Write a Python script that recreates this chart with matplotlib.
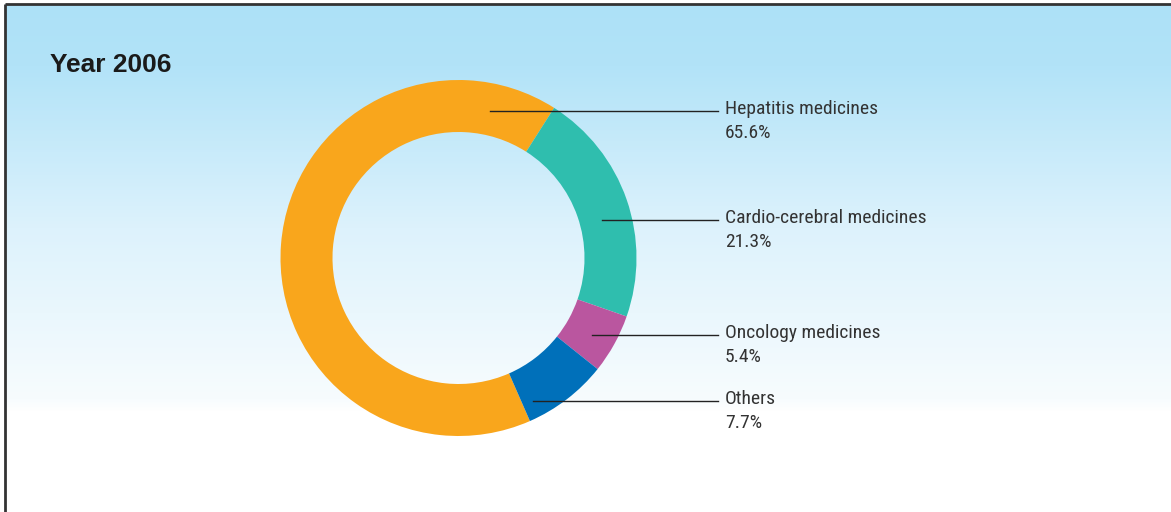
import numpy as np
import matplotlib
matplotlib.use("Agg")
import matplotlib.pyplot as plt
from matplotlib.colors import LinearSegmentedColormap
from matplotlib import font_manager

# ---- data ----
categories = ["Hepatitis medicines", "Cardio-cerebral medicines", "Oncology medicines", "Others"]
shares = [65.6, 21.3, 5.4, 7.7]
title = "Year 2006"

# ---- styling ----
colors = ["#F9A61C", "#2FBEAE", "#BA569F", "#0070BA"]
anchor_angles = [78.1, 14.9, -30.0, -62.5]   # where leader lines touch the ring (deg)
anchor_radii = [150.5, 148, 154.7, 161.6]    # px from centre
text_color = "#333333"

avail = {f.name for f in font_manager.fontManager.ttflist}
narrow = "Liberation Sans Narrow" if "Liberation Sans Narrow" in avail else "Roboto Condensed" if "Roboto Condensed" in avail else "Liberation Sans"

W, H = 1171, 512
fig = plt.figure(figsize=(W / 100, H / 100), dpi=100)

# background gradient
bg = fig.add_axes([0, 0, 1, 1])
bg.set_xlim(0, W)
bg.set_ylim(H, 0)
bg.axis("off")
cmap = LinearSegmentedColormap.from_list("bg", [(0, "#ADE1F7"), (0.15, "#B2E3F8"), (0.55, "#DDF2FC"), (0.97, "#F7FCFE"), (1.0, "#FFFFFF")])
ys = np.linspace(4, H, 600)
grad = np.clip((ys - 4) / (412 - 4), 0, 1)
grad[ys > 412] = 1.0
bg.imshow(grad[:, None], aspect="auto", cmap=cmap, extent=[5, W, H, 4], vmin=0, vmax=1)
bg.plot([5, W], [4, 4], color="#333333", lw=2, solid_capstyle="butt")
bg.plot([5, 5], [4, H], color="#333333", lw=2, solid_capstyle="butt")
bg.text(50, 65, title, fontsize=19, fontweight="bold", family="Liberation Sans",
        color="#1a1a1a", va="center", ha="left")

# donut
R = 178
cx, cy = 458.5, 258
ax = fig.add_axes([(cx - R) / W, (H - cy - R) / H, 2 * R / W, 2 * R / H])
ax.axis("off")
ax.patch.set_alpha(0)
start = 57.5 + shares[0] / 100 * 360
ax.pie(shares, colors=colors, startangle=start, counterclock=False, radius=1,
       wedgeprops=dict(width=1 - 126 / 178, linewidth=0))
ax.set_xlim(-1, 1)
ax.set_ylim(-1, 1)

x_line_end = (718 - cx) / R
x_text = (725 - cx) / R
for cat, val, ang, rr in zip(categories, shares, anchor_angles, anchor_radii):
    a = np.deg2rad(ang)
    x0 = rr / R * np.cos(a)
    y0 = rr / R * np.sin(a)
    ax.plot([x0, x_line_end], [y0, y0], color="#222222", lw=1, clip_on=False)
    ax.text(x_text, y0 + 2 / R, cat, fontsize=14, family=narrow, color=text_color,
            va="center", ha="left", clip_on=False)
    ax.text(x_text, y0 - 22 / R, f"{val}%", fontsize=14, family=narrow,
            color=text_color, va="center", ha="left", clip_on=False)

fig.savefig("out.png", dpi=100)
